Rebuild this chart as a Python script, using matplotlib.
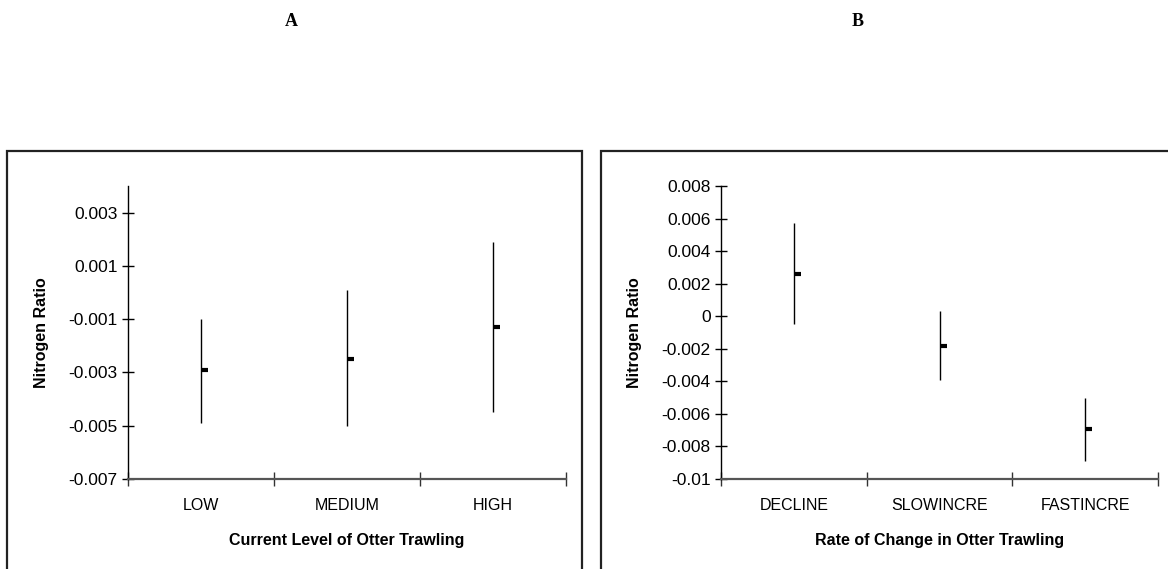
import numpy as np
import matplotlib
matplotlib.use('Agg')
import matplotlib.pyplot as plt
from matplotlib import markers
from matplotlib.patches import Rectangle

plt.rcParams['font.family'] = ['Liberation Sans', 'DejaVu Sans']

# panel A: current level of otter trawling
level_cats = ['LOW', 'MEDIUM', 'HIGH']
level_mean = [-0.0029, -0.0025, -0.0013]
level_low = [-0.0049, -0.0050, -0.0045]
level_high = [-0.0010, 0.0001, 0.0019]
level_ticks = [-0.007, -0.005, -0.003, -0.001, 0.001, 0.003]
level_ticklabels = ['-0.007', '-0.005', '-0.003', '-0.001', '0.001', '0.003']

# panel B: rate of change in otter trawling
rate_cats = ['DECLINE', 'SLOWINCRE', 'FASTINCRE']
rate_mean = [0.0026, -0.0018, -0.0069]
rate_low = [-0.0005, -0.0039, -0.0089]
rate_high = [0.0057, 0.0003, -0.0050]
rate_ticks = [-0.01, -0.008, -0.006, -0.004, -0.002, 0, 0.002, 0.004, 0.006, 0.008]
rate_ticklabels = ['-0.01', '-0.008', '-0.006', '-0.004', '-0.002', '0',
                   '0.002', '0.004', '0.006', '0.008']

W, H = 1168, 569
fig = plt.figure(figsize=(W / 100, H / 100), dpi=100)


def hilo_panel(rect, cats, mean, low, high, ylim, ticks, ticklabels, xlabel):
    ax = fig.add_axes(rect)
    x = np.arange(len(cats))
    ax.vlines(x, low, high, color='black', linewidth=1.0)
    ax.plot(x, mean, linestyle='none', marker=markers.TICKRIGHT,
            markersize=5, markeredgewidth=3.0, color='black')
    ax.set_xlim(-0.5, len(cats) - 0.5)
    ax.set_ylim(*ylim)
    ax.set_yticks(ticks)
    ax.set_yticklabels(ticklabels, fontsize=12.5)
    ax.set_xticks(x)
    ax.set_xticklabels(cats, fontsize=11.5)
    ax.tick_params(axis='x', length=0, pad=14)
    ax.tick_params(axis='y', direction='inout', length=9, width=1.0, pad=3)
    # category boundary ticks crossing the x axis
    ax.set_xticks(np.arange(len(cats) + 1) - 0.5, minor=True)
    ax.tick_params(axis='x', which='minor', direction='inout', length=10,
                   width=1.0, color='#333333')
    for side in ['top', 'right']:
        ax.spines[side].set_visible(False)
    ax.spines['left'].set_linewidth(1.0)
    ax.spines['bottom'].set_linewidth(1.6)
    ax.spines['bottom'].set_color('#555555')
    ax.set_ylabel('Nitrogen Ratio', fontsize=11.5, fontweight='bold', labelpad=14)
    ax.set_xlabel(xlabel, fontsize=11.5, fontweight='bold', labelpad=14)
    return ax


ax_b, ax_h = 90 / H, 293 / H
hilo_panel([128 / W, ax_b, 438 / W, ax_h], level_cats, level_mean, level_low,
           level_high, (-0.007, 0.004), level_ticks, level_ticklabels,
           'Current Level of Otter Trawling')
hilo_panel([721 / W, ax_b, 437 / W, ax_h], rate_cats, rate_mean, rate_low,
           rate_high, (-0.01, 0.008), rate_ticks, rate_ticklabels,
           'Rate of Change in Otter Trawling')

# frames around each panel
fig.patches.append(Rectangle((7 / W, -0.05), 575 / W, (H - 151) / H + 0.05,
                             transform=fig.transFigure, fill=False,
                             edgecolor='#222222', linewidth=1.6))
fig.patches.append(Rectangle((601 / W, -0.05), 600 / W, (H - 151) / H + 0.05,
                             transform=fig.transFigure, fill=False,
                             edgecolor='#222222', linewidth=1.6))

# panel letters
for label, xc in [('A', 291), ('B', 858)]:
    fig.text(xc / W, 1 - 22 / H, label, ha='center', va='center',
             fontsize=13, fontweight='bold', family='Liberation Serif')

fig.savefig('out.png', dpi=100)
